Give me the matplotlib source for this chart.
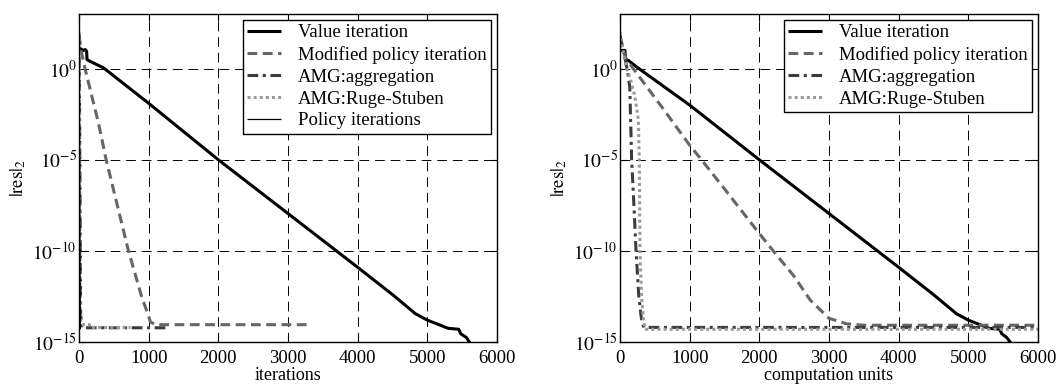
import numpy as np
import matplotlib
matplotlib.use("Agg")
import matplotlib.pyplot as plt

plt.rcParams['font.family'] = ['Liberation Serif', 'DejaVu Serif']
plt.rcParams['mathtext.fontset'] = 'stix'

# ---------------- data (log10 of residual) ----------------
# Left panel: x = iterations
vi_it_x = [0, 60, 90, 110, 115, 160, 350, 1000, 2000, 3000, 4000, 4500, 4830, 5000, 5300, 5450, 5480, 5560, 5620]
vi_it_y = [1.15, 1.0, 1.05, 0.95, 0.5, 0.4, 0.05, -1.9, -5.0, -7.95, -10.9, -12.4, -13.45, -13.8, -14.25, -14.3, -14.55, -14.75, -15.1]

mpi_it_x = [0, 30, 87, 280, 390, 710, 906, 978, 1026, 1098, 3340]
mpi_it_y = [1.85, 1.0, 0.0, -3.0, -5.0, -10.0, -12.6, -13.35, -13.9, -14.05, -14.05]

agg_it_x = [0, 8, 16, 24, 40, 1300]
agg_it_y = [1.9, -2.0, -8.0, -13.5, -14.22, -14.22]

rs_it_x = [0, 6, 12, 18, 30, 150, 160, 740]
rs_it_y = [2.0, -2.0, -8.0, -13.8, -14.05, -14.05, -14.2, -14.2]

pol_it_x = [0, 5, 10, 15, 20]
pol_it_y = [1.2, -1.0, -5.0, -11.0, -14.3]

# Right panel: x = computation units
vi_cu_x = [0, 70, 80, 120, 240, 1000, 2000, 3000, 4000, 4500, 4830, 5000, 5300, 5450, 5480, 5550, 5620]
vi_cu_y = [1.0, 1.0, 0.5, 0.45, 0.09, -2.0, -5.0, -7.95, -10.9, -12.4, -13.45, -13.8, -14.25, -14.3, -14.55, -14.75, -15.1]

mpi_cu_x = [0, 40, 80, 190, 600, 1000, 1170, 1500, 2000, 2200, 2500, 2730, 3000, 3250, 3500, 6000]
mpi_cu_y = [1.8, 1.1, 0.6, 0.0, -2.1, -4.2, -5.0, -6.6, -9.05, -10.0, -11.4, -12.7, -13.7, -14.0, -14.08, -14.08]

agg_cu_x = [0, 70, 110, 140, 167, 200, 230, 270, 300, 320, 345, 6000]
agg_cu_y = [1.8, 0.6, -0.2, -1.0, -5.0, -7.5, -10.0, -12.5, -13.5, -14.0, -14.2, -14.2]

rs_cu_x = [0, 50, 96, 150, 215, 263, 277, 287, 310, 335, 360, 6000]
rs_cu_y = [2.0, 0.8, 0.0, -0.6, -1.55, -2.8, -5.0, -10.0, -12.5, -13.7, -14.3, -14.3]

labels = ["Value iteration", "Modified policy iteration", "AMG:aggregation",
          "AMG:Ruge-Stuben", "Policy iterations"]
ytick_vals = [1e-15, 1e-10, 1e-5, 1e0]
ytick_labels = ['$10^{-15}$', '$10^{-10}$', '$10^{-5}$', '$10^{0}$']
xtick_vals = [0, 1000, 2000, 3000, 4000, 5000, 6000]

# ---------------- styles ----------------
styles = [
    dict(color='black', lw=2.2, ls='-'),
    dict(color='#666666', lw=2.2, ls=(0, (3.2, 1.8))),
    dict(color='#3c3c3c', lw=2.2, ls=(0, (3.5, 1.5, 1.0, 1.5))),
    dict(color='#9a9a9a', lw=2.2, ls=(0, (1.0, 1.0))),
    dict(color='black', lw=0.9, ls='-'),
]

fig = plt.figure(figsize=(10.62, 3.85), dpi=100)
B = 342.0
ax1 = fig.add_axes([79/1062, (385-B)/385, 418/1062, (B-14)/385])
ax2 = fig.add_axes([620/1062, (385-B)/385, 418/1062, (B-14)/385])

FS = 13.5
TFS = 14

def pw(v):
    return 10.0 ** np.asarray(v)

left_series = [(vi_it_x, vi_it_y), (mpi_it_x, mpi_it_y), (agg_it_x, agg_it_y),
               (rs_it_x, rs_it_y), (pol_it_x, pol_it_y)]
right_series = [(vi_cu_x, vi_cu_y), (mpi_cu_x, mpi_cu_y), (agg_cu_x, agg_cu_y),
                (rs_cu_x, rs_cu_y)]

for ax, series, xl in [(ax1, left_series, 'iterations'), (ax2, right_series, 'computation units')]:
    for (x, y), st, lab in zip(series, styles, labels):
        ax.plot(x, pw(y), label=lab, solid_capstyle='butt', dash_capstyle='butt', **st)
    ax.set_yscale('log')
    ax.set_xlim(0, 6000)
    ax.set_ylim(1e-15, 1e3)
    ax.set_yticks(ytick_vals)
    ax.set_yticklabels(ytick_labels)
    ax.set_xticks(xtick_vals)
    ax.set_xticklabels([str(v) for v in xtick_vals])
    ax.yaxis.set_minor_locator(matplotlib.ticker.NullLocator())
    ax.tick_params(direction='in', length=5, width=0.8, top=True, right=True,
                   labelsize=TFS)
    ax.tick_params(axis='x', pad=6, labelsize=13.5)
    ax.tick_params(axis='y', pad=1.5)
    ax.grid(True, which='major', color='black', lw=0.7, ls=(0, (10, 6)))
    ax.set_axisbelow(True)
    for sp in ax.spines.values():
        sp.set_linewidth(1.0)
    ax.set_xlabel(xl, fontsize=13, labelpad=0)
    ax.set_ylabel(r'$|\mathrm{res}|_2$', fontsize=FS, labelpad=3)
    leg = ax.legend(loc='upper right', fontsize=FS, fancybox=False, framealpha=1,
                    edgecolor='black', borderaxespad=0.3, handlelength=1.8,
                    labelspacing=0.25, borderpad=0.25, handletextpad=0.9)
    leg.get_frame().set_linewidth(1.0)

fig.savefig('out.png', dpi=100)
